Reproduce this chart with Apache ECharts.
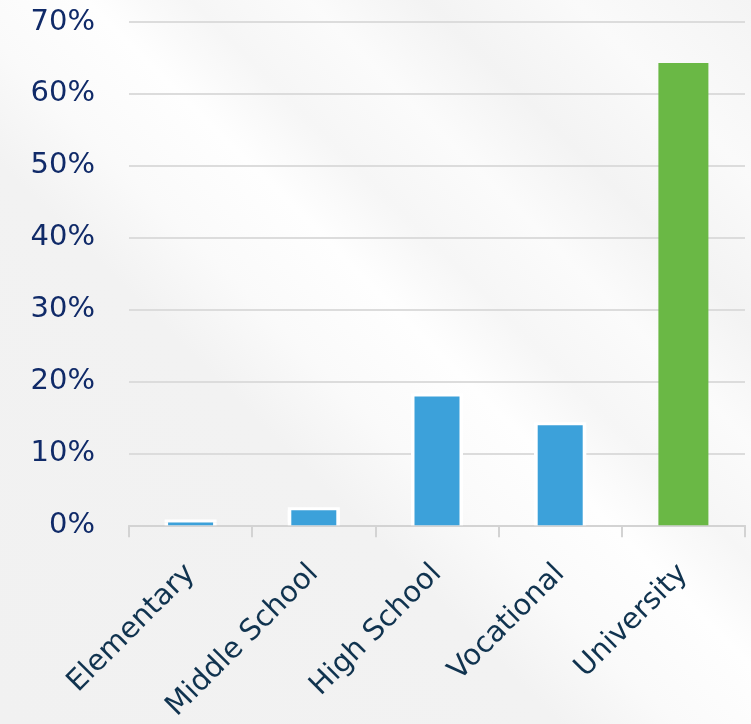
<!DOCTYPE html>
<html><head><meta charset="utf-8">
<script src="https://cdn.jsdelivr.net/npm/echarts@6/dist/echarts.min.js"></script>
<style>
html,body{margin:0;padding:0;}
#c{width:751px;height:724px;background:linear-gradient(45deg,#f1f1f1 0%,#f2f2f2 38%,#fafafa 46%,#fefefe 55%,#f6f6f6 62%,#fbfbfb 70%,#f3f3f3 78%,#fafafa 88%,#f4f4f4 100%);}
</style></head>
<body><div id="c"></div>
<script>
const categories = ['Elementary','Middle School','High School','Vocational','University'];
const values = [0.4, 2.1, 17.9, 13.9, 64.3];
const highlight = [false, false, false, false, true];
const yTicks = {min:0, max:70, interval:10};

const blueVals = values.map((v,i)=>highlight[i]?null:v);
const greenVals = values.map((v,i)=>highlight[i]?v:null);

const hiddenX = {type:'category',data:categories,show:false};
const chart = echarts.init(document.getElementById('c'), null, {renderer:'canvas'});
chart.setOption({
  backgroundColor:'transparent',
  animation:false,
  grid:{left:129,right:6,top:22,bottom:197,containLabel:false},
  xAxis:[{type:'category',data:categories,
    axisLine:{lineStyle:{color:'#d3d3d3',width:2}},
    axisTick:{show:true,length:12,lineStyle:{color:'#d3d3d3',width:2}},
    axisLabel:{rotate:45,margin:44,color:'#10334f',fontSize:29,fontFamily:'DejaVu Sans',interval:0}},
    hiddenX, hiddenX],
  yAxis:{type:'value',min:yTicks.min,max:yTicks.max,interval:yTicks.interval,
    axisLine:{show:false},axisTick:{show:false},
    axisLabel:{formatter:'{value}%',color:'#102a68',fontSize:29,fontFamily:'DejaVu Sans',margin:34},
    splitLine:{lineStyle:{color:'#dcdcdc',width:2}}},
  series:[
    {type:'bar',xAxisIndex:1,barWidth:52,z:2,silent:true,data:blueVals,
     itemStyle:{color:'#ffffff',shadowColor:'#ffffff',shadowBlur:0,shadowOffsetY:-3}},
    {type:'bar',xAxisIndex:0,barWidth:45,z:3,data:blueVals,itemStyle:{color:'#3ca1da'}},
    {type:'bar',xAxisIndex:2,barWidth:50,z:3,data:greenVals,itemStyle:{color:'#6ab845'}}
  ]
});
</script></body></html>
